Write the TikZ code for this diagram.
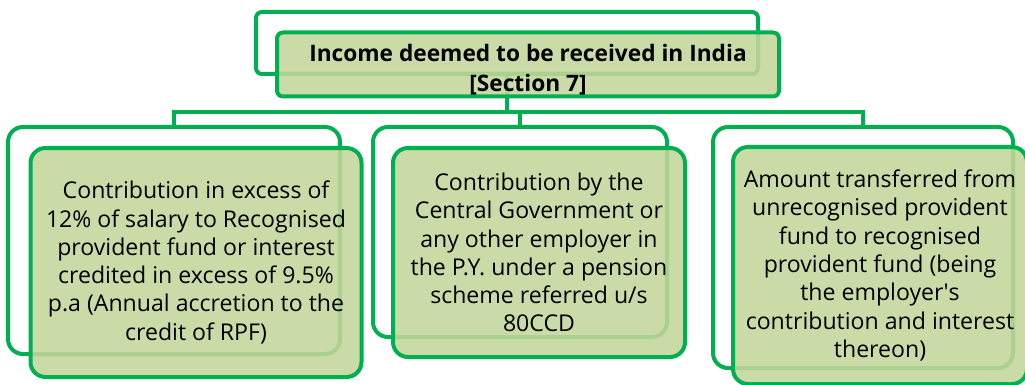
\documentclass[tikz,border=0pt]{standalone}
\usepackage{fontspec}
\setmainfont{Open Sans}
\definecolor{linegreen}{HTML}{00B050}
\definecolor{boxgreen}{HTML}{C3D69B}

\begin{document}
\begin{tikzpicture}[x=1pt,y=-1pt,
    frame/.style={draw=linegreen,line width=4pt,rounded corners=15pt,inner sep=0pt},
    card/.style={frame,fill=boxgreen,fill opacity=0.88,text opacity=1,align=center,
      font=\fontsize{23.1}{28.3}\selectfont},
    link/.style={draw=linegreen,line width=4pt}]
  \useasboundingbox (0,0) rectangle (1025,385);
  % back frames
  \node[frame,rounded corners=6pt,minimum width=502pt,minimum height=62pt] (topback) at (507,43) {};
  \node[frame,minimum width=332pt,minimum height=227pt] (leftback) at (174,240.5) {};
  \node[frame,minimum width=294pt,minimum height=210pt] (midback) at (520,232) {};
  \node[frame,minimum width=300pt,minimum height=241pt] (rightback) at (863,247.5) {};
  % connectors
  \coordinate (bar) at (0,112);
  \draw[link] (topback.south) -- (topback.south |- bar);
  \draw[link] (leftback.north) -- (leftback.north |- bar) -- (rightback.north |- bar) -- (rightback.north);
  \draw[link] (midback.north |- bar) -- (midback.north);
  % front boxes
  \node[card,rounded corners=6pt,minimum width=502pt,minimum height=64pt] (top) at (528,64.5) {};
  \node[align=center,font=\fontsize{22.7}{30}\selectfont\bfseries] (title) at (528,70)
    {Income deemed to be received in India\\{[Section 7]}};
  \node[card,minimum width=331pt,minimum height=229pt] (left) at (196,262.5)
    {Contribution in excess of\\12\% of salary to Recognised\\provident fund or interest\\credited in excess of 9.5\%\\p.a (Annual accretion to the\\credit of RPF)};
  \node[card,minimum width=292pt,minimum height=209pt] (mid) at (539,252.5)
    {Contribution by the\\Central Government or\\any other employer in\\the P.Y. under a pension\\scheme referred u/s\\80CCD};
  \node[card,minimum width=294pt,minimum height=237pt] (right) at (880,265.5)
    {Amount transferred from\\unrecognised provident\\fund to recognised\\provident fund (being\\the employer\textquotesingle s\\contribution and interest\\thereon)};
\end{tikzpicture}
\end{document}
